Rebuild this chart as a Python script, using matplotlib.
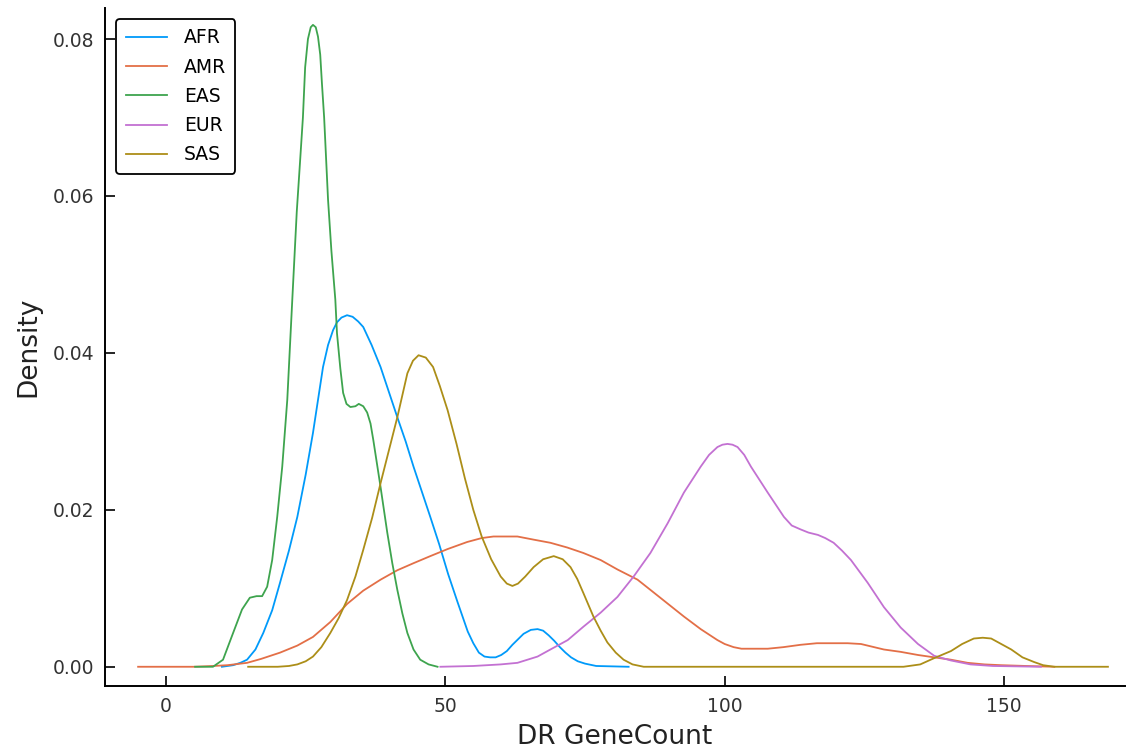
import matplotlib
matplotlib.use("Agg")
import matplotlib.pyplot as plt

# ---- data ----
labels = ["AFR", "AMR", "EAS", "EUR", "SAS"]
colors = ["#009AFA", "#E36F47", "#3EA44E", "#C371D2", "#AC8E18"]

afr_x = [10, 12, 13.3, 14.5, 16, 17.4, 19, 20.4, 22, 23.5, 25, 26.3, 27.2, 28.1, 29, 29.9,
         30.6, 31.4, 32.4, 33.4, 34.4, 35.3, 36.8, 38.4, 39.9, 41.4, 42.9, 44.3, 45.8,
         47.3, 48.9, 50.5, 52.2, 54, 55, 56, 57, 58, 59, 60, 61, 62, 63, 64, 65.3, 66.5,
         67.5, 68.5, 69.5, 70.5, 71.5, 72.5, 73.7, 75, 77, 82.8]
afr_y = [0, 0.0002, 0.0005, 0.0009, 0.0022, 0.0043, 0.0072, 0.0107, 0.0148, 0.0191, 0.0245,
         0.0298, 0.0340, 0.0382, 0.0410, 0.0429, 0.0439, 0.0445, 0.0448, 0.0446, 0.0440,
         0.0433, 0.0410, 0.0382, 0.0350, 0.0318, 0.0287, 0.0255, 0.0223, 0.0191, 0.0156,
         0.0118, 0.0082, 0.0045, 0.0030, 0.0018, 0.0013, 0.0012, 0.0012, 0.0015, 0.0020,
         0.0028, 0.0035, 0.0042, 0.0047, 0.0048, 0.0046, 0.0040, 0.0033, 0.0025, 0.0018,
         0.0012, 0.0007, 0.0004, 0.0001, 0]

amr_x = [-5, 5, 8.4, 11, 14.5, 17, 20.4, 23.5, 26.3, 29.4, 32.4, 35.3, 38.4, 41.4, 44.3,
         47.3, 50.4, 53.9, 56.5, 58.6, 61, 62.9, 65.8, 68.8, 71.8, 74.7, 77.8, 80.8, 84.4,
         86.7, 89.7, 92.7, 95.7, 98.7, 100, 101.6, 103, 104.7, 107.7, 110.5, 113.6, 116.5,
         119.5, 122, 124.4, 128.5, 131.5, 134.6, 137.5, 140.5, 143.5, 146.5, 149.5, 154, 159]
amr_y = [0, 0, 0.0001, 0.0002, 0.0005, 0.0010, 0.0018, 0.0027, 0.0038, 0.0057, 0.0080,
         0.0097, 0.0111, 0.0123, 0.0132, 0.0141, 0.0150, 0.0159, 0.0164, 0.0166, 0.0166,
         0.0166, 0.0162, 0.0158, 0.0152, 0.0145, 0.0136, 0.0124, 0.0111, 0.0098, 0.0081,
         0.0064, 0.0048, 0.0034, 0.0029, 0.0025, 0.0023, 0.0023, 0.0023, 0.0025, 0.0028,
         0.0030, 0.0030, 0.0030, 0.0029, 0.0022, 0.0019, 0.0015, 0.0012, 0.0009, 0.0005,
         0.0003, 0.0002, 0.0001, 0]

eas_x = [5.2, 8.4, 10.2, 12, 13.6, 15, 16.2, 17.2, 18.1, 19, 19.9, 20.8, 21.7, 22.6, 23.4,
         24.0, 24.5, 24.9, 25.4, 25.9, 26.3, 26.8, 27.2, 27.6, 27.9, 28.3, 28.7, 29.0, 29.6,
         30.3, 30.6, 31.2, 31.7, 32.3, 33, 33.9, 34.5, 35.3, 36, 36.6, 37.1, 38.4, 39.6,
         40.5, 41.4, 42.3, 43.2, 44.3, 45.5, 47, 48.6]
eas_y = [0, 0, 0.0009, 0.0043, 0.0073, 0.0088, 0.0090, 0.0090, 0.0102, 0.0136, 0.0191,
         0.0255, 0.0340, 0.0468, 0.0580, 0.0645, 0.0700, 0.0764, 0.0800, 0.0815, 0.0818,
         0.0815, 0.0803, 0.0780, 0.0744, 0.0700, 0.0640, 0.0595, 0.0530, 0.0468, 0.0425,
         0.0380, 0.0349, 0.0335, 0.0331, 0.0332, 0.0335, 0.0332, 0.0324, 0.0310, 0.0289,
         0.0229, 0.0171, 0.0132, 0.0098, 0.0068, 0.0043, 0.0022, 0.0009, 0.0003, 0]

eur_x = [49.1, 55, 59.9, 62.9, 66.5, 68.8, 71.9, 74.7, 77.8, 80.8, 83.7, 86.7, 89.8, 92.7,
         95.7, 97.2, 98.7, 99.6, 100.5, 101.4, 102.3, 103.5, 104.7, 107.7, 110.6, 112,
         113.6, 115, 116.7, 118, 119.5, 121, 122.6, 125.6, 128.5, 131.5, 134.6, 137.5,
         140.5, 144, 148, 156.6]
eur_y = [0, 0.0001, 0.0003, 0.0005, 0.0013, 0.0022, 0.0034, 0.0051, 0.0069, 0.0089, 0.0115,
         0.0145, 0.0183, 0.0222, 0.0255, 0.0270, 0.0280, 0.0283, 0.0284, 0.0283, 0.0280,
         0.0270, 0.0255, 0.0222, 0.0191, 0.0180, 0.0175, 0.0171, 0.0168, 0.0164, 0.0158,
         0.0148, 0.0136, 0.0107, 0.0076, 0.0050, 0.0029, 0.0014, 0.0008, 0.0003, 0.0001, 0]

sas_x = [14.7, 20, 22, 23.5, 25, 26.3, 27.8, 29.4, 30.9, 32.4, 33.9, 35.3, 36.9, 38.4, 39.9,
         41.4, 43.2, 44.2, 45.2, 46.5, 47.8, 49, 50.4, 52, 53.5, 55, 56.5, 58.2, 59.9, 61,
         62, 63, 64.3, 65.8, 67.5, 69.4, 71, 72.4, 73.6, 74.7, 75.6, 76.5, 77.8, 79, 80.5,
         81.9, 83.5, 85.5, 100, 120, 132, 135, 137.5, 140.5, 142.5, 144.6, 146.2, 147.7,
         149.5, 151.3, 153.3, 155.4, 157, 159, 168.6]
sas_y = [0, 0, 0.0001, 0.0003, 0.0007, 0.0013, 0.0025, 0.0043, 0.0062, 0.0085, 0.0115,
         0.0149, 0.0190, 0.0234, 0.0276, 0.0318, 0.0374, 0.0390, 0.0397, 0.0394, 0.0382,
         0.0358, 0.0327, 0.0284, 0.0240, 0.0200, 0.0166, 0.0137, 0.0115, 0.0106, 0.0103,
         0.0106, 0.0115, 0.0127, 0.0137, 0.0141, 0.0137, 0.0127, 0.0112, 0.0094, 0.0079,
         0.0064, 0.0046, 0.0031, 0.0018, 0.0009, 0.0003, 0, 0, 0, 0, 0.0003, 0.0011,
         0.0020, 0.0029, 0.0036, 0.0037, 0.0036, 0.0029, 0.0022, 0.0012, 0.0006, 0.0002,
         0, 0]

xs = [afr_x, amr_x, eas_x, eur_x, sas_x]
ys = [afr_y, amr_y, eas_y, eur_y, sas_y]

xticks = [0, 50, 100, 150]
yticks = [0.00, 0.02, 0.04, 0.06, 0.08]
ytick_labels = ["0.00", "0.02", "0.04", "0.06", "0.08"]

# ---- figure ----
plt.rcParams['font.family'] = ['DejaVu Sans']
fig = plt.figure(figsize=(11.27, 7.54), dpi=100)
ax = fig.add_axes([0.0932, 0.0902, 0.905, 0.8997])

for x, y, c, lab in zip(xs, ys, colors, labels):
    ax.plot(x, y, color=c, lw=1.3, label=lab, solid_joinstyle='round')

ax.set_xlim(-10.92, 171.65)
ax.set_ylim(-0.00245, 0.0840)
ax.set_xticks(xticks)
ax.set_xticklabels([str(t) for t in xticks])
ax.set_yticks(yticks)
ax.set_yticklabels(ytick_labels)
ax.tick_params(direction='in', length=7, width=1.2, labelsize=13.5, colors='black',
               labelcolor='#333333', pad=8)
for s in ['top', 'right']:
    ax.spines[s].set_visible(False)
for s in ['left', 'bottom']:
    ax.spines[s].set_linewidth(1.4)

ax.set_xlabel("DR GeneCount", fontsize=19, labelpad=6, color='#222222')
ax.set_ylabel("Density", fontsize=19, labelpad=8, color='#222222')

leg = ax.legend(loc='upper left', fontsize=13.5, frameon=True, fancybox=True,
                edgecolor='black', handlelength=2.2, handletextpad=0.9,
                borderaxespad=0.6, labelspacing=0.55, borderpad=0.5)
leg.get_frame().set_linewidth(1.3)
leg.get_frame().set_alpha(1)

fig.savefig("out.png", dpi=100)
